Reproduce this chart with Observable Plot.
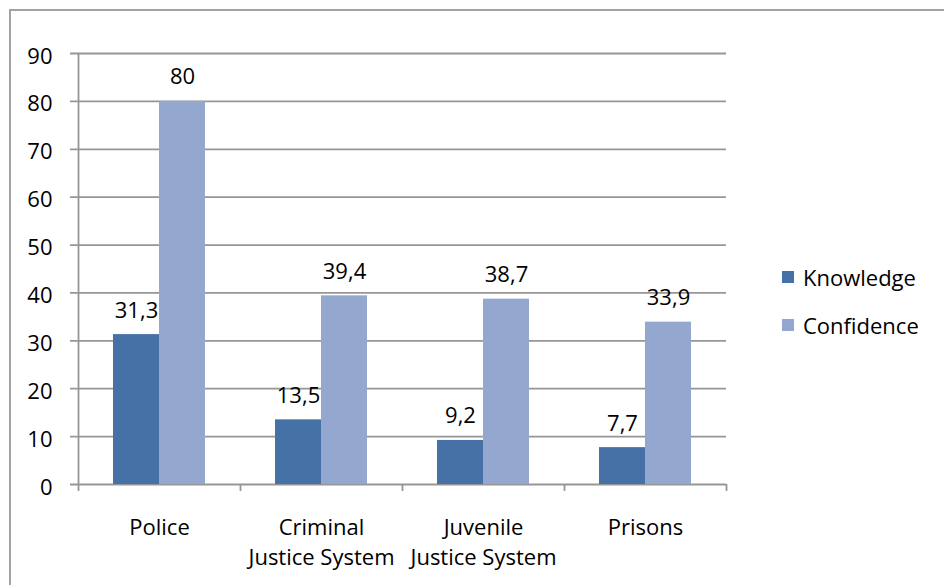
<!DOCTYPE html>
<html><head><meta charset="utf-8">
<script src="https://cdn.jsdelivr.net/npm/d3@7"></script>
<script src="https://cdn.jsdelivr.net/npm/@observablehq/plot@0.6"></script>
<style>
body{margin:0;background:#fff;}
#wrap{position:relative;width:944px;height:585px;overflow:hidden;font-family:"Open Sans",sans-serif;background:#fff;}
#frame{position:absolute;left:9px;top:9px;width:1000px;height:1000px;border-left:2px solid #a3a3a3;border-top:2px solid #a3a3a3;}
#chart{position:absolute;left:0;top:0;}
#legend{position:absolute;left:782px;top:253px;}
#legend .lg-swatch{height:48px !important;padding:0 !important;margin:0 !important;display:flex;align-items:center;}
#legend .lg-swatch svg{margin-right:9px !important;}
</style>
</head><body>
<div id="wrap"><div id="frame"></div><div id="chart"></div><div id="legend"></div></div>
<script>
const categories = ["Police", "Criminal\nJustice System", "Juvenile\nJustice System", "Prisons"];
const series = ["Knowledge", "Confidence"];
const knowledge = [31.3, 13.5, 9.2, 7.7];
const confidence = [80, 39.4, 38.7, 33.9];
const yTicks = [0, 10, 20, 30, 40, 50, 60, 70, 80, 90];
const colors = ["#4571a6", "#94a8cf"];
const gridColor = "#969696";

const fmt = v => String(v).replace(".", ",");
const knowRows = categories.map((c, i) => ({category: c, series: series[0], value: knowledge[i]}));
const confRows = categories.map((c, i) => ({category: c, series: series[1], value: confidence[i]}));

const chart = Plot.plot({
  width: 944, height: 585,
  marginLeft: 78, marginRight: 218, marginTop: 53, marginBottom: 101,
  style: {fontFamily: "Open Sans", fontSize: "22px", color: "#000", background: "transparent"},
  x: {domain: categories, padding: 0, axis: null},
  y: {domain: [0, 90], axis: null},
  color: {domain: series, range: colors},
  marks: [
    Plot.gridY(yTicks, {stroke: gridColor, strokeOpacity: 1, strokeWidth: 1.8, insetLeft: -8}),
    Plot.ruleX([categories[0]], {dx: -81, stroke: gridColor, strokeWidth: 1.8}),
    Plot.ruleX(categories, {x: d => d, dx: -81, y1: 0, y2: 0, insetBottom: -7, stroke: gridColor, strokeWidth: 1.8}),
    Plot.ruleX([categories[categories.length - 1]], {x: d => d, dx: 81, y1: 0, y2: 0, insetBottom: -7, stroke: gridColor, strokeWidth: 1.8}),
    Plot.barY(knowRows, {x: "category", y: "value", fill: "series", insetLeft: 35, insetRight: 81}),
    Plot.barY(confRows, {x: "category", y: "value", fill: "series", insetLeft: 81, insetRight: 35}),
    Plot.text(knowRows, {x: "category", y: "value", text: d => fmt(d.value), dx: -23, dy: -24, fill: "#000"}),
    Plot.text(confRows, {x: "category", y: "value", text: d => fmt(d.value), dx: 23, dy: -24, fill: "#000"}),
    Plot.axisY(yTicks, {tickSize: 0, tickPadding: 26, dy: 3, label: null, fontSize: 22}),
    Plot.text(categories, {x: d => d, frameAnchor: "bottom", lineAnchor: "top", dy: 29, lineHeight: 1.38, fill: "#000"})
  ]
});
document.getElementById("chart").appendChild(chart);

const legend = Plot.legend({
  color: {domain: series, range: colors},
  legend: "swatches", columns: 1, swatchSize: 12, className: "lg",
  style: {fontFamily: "Open Sans", fontSize: "22px", color: "#000"}
});
document.getElementById("legend").appendChild(legend);
</script>
</body></html>
